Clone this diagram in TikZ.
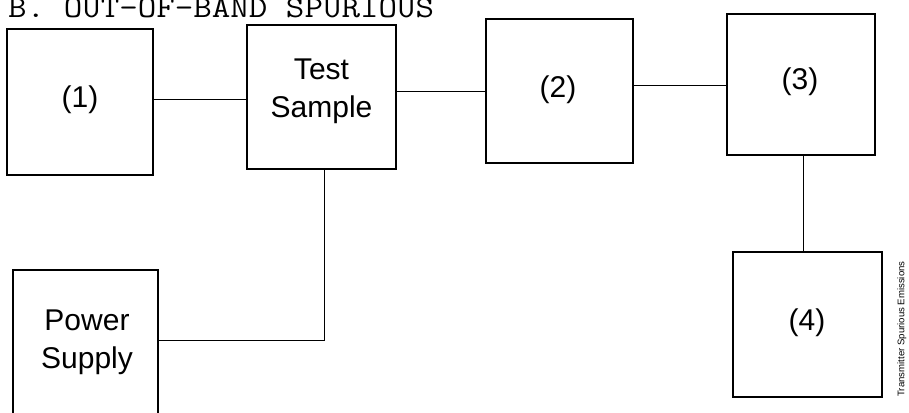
\documentclass[tikz,border=0pt]{standalone}
\usepackage{fontspec}
\setmainfont{Liberation Sans}
\begin{document}
\begin{tikzpicture}[x=1pt,y=-1pt,
  box/.style={draw,line width=1.3pt,inner sep=0pt},
  lab/.style={font=\fontsize{30}{38}\selectfont,align=center,inner sep=0pt},
  wire/.style={line width=0.8pt}]
\useasboundingbox (0,0) rectangle (909,412);
\clip (0,0) rectangle (909,412);
\node[anchor=base west,inner sep=0pt,font=\ttfamily\fontsize{31}{31}\selectfont] (title) at (8,18) {\scalebox{1.16}[1]{B. OUT-OF-BAND SPURIOUS}};
\node[box,minimum width=146,minimum height=146] (b1) at (80,102) {};
\node[lab] (t1) at (80,100) {(1)};
\node[box,minimum width=149,minimum height=144] (ts) at (321.5,97) {};
\node[lab] (tts) at (321.5,91.5) {Test\\Sample};
\node[box,minimum width=147,minimum height=144] (b2) at (559.5,91) {};
\node[lab] (t2) at (558,90) {(2)};
\node[box,minimum width=148,minimum height=141] (b3) at (801,84.5) {};
\node[lab] (t3) at (800,82) {(3)};
\node[box,minimum width=149,minimum height=145] (b4) at (807.5,324.5) {};
\node[lab] (t4) at (807,323) {(4)};
\node[box,minimum width=145,minimum height=170] (ps) at (85.5,355) {};
\node[lab] (tps) at (87,342) {Power\\Supply};
\node[rotate=90,inner sep=0pt,font=\fontsize{9.6}{11}\selectfont] (side) at (902,329) {Transmitter Spurious Emissions};
\coordinate (v) at (324,0);
\coordinate (h1) at (0,99);
\coordinate (h2) at (0,91);
\coordinate (h3) at (0,85);
\coordinate (h4) at (0,340);
\coordinate (v34) at (803,0);
\draw[wire] (b1.east |- h1) -- (ts.west |- h1);
\draw[wire] (ts.east |- h2) -- (b2.west |- h2);
\draw[wire] (b2.east |- h3) -- (b3.west |- h3);
\draw[wire] (b3.south -| v34) -- (b4.north -| v34);
\draw[wire] (ps.east |- h4) -| (ts.south -| v);
\end{tikzpicture}
\end{document}
